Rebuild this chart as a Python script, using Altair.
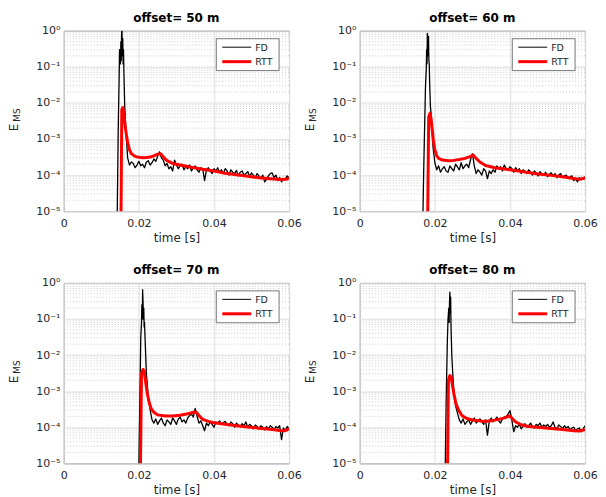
import altair as alt
import pandas as pd

# ---------------- data ----------------
OFFSETS = [50, 60, 70, 80]

# common sampling grid of the FD traces, in ms
GRID_MS = [14.0, 14.5, 15.0, 15.5, 16.0, 16.5, 17.0, 17.5, 18.0, 18.5,
           19.0, 19.5, 20.0, 20.5, 21.0, 21.5, 22.0, 22.5, 23.0, 23.5,
           24.0, 24.5, 25.0, 25.5, 26.0, 26.5, 27.0, 27.5, 28.0, 28.5,
           29.0, 29.5, 30.0, 30.5, 31.0, 31.5, 32.0, 32.5, 33.0, 33.5,
           34.0, 34.5, 35.0, 35.5, 36.0, 36.5, 37.0, 37.5, 38.0, 38.5,
           39.0, 39.5, 40.0, 40.5, 41.0, 41.5, 42.0, 42.5, 43.0, 43.5,
           44.0, 44.5, 45.0, 45.5, 46.0, 46.5, 47.0, 47.5, 48.0, 48.5,
           49.0, 49.5, 50.0, 50.5, 51.0, 51.5, 52.0, 52.5, 53.0, 53.5,
           54.0, 54.5, 55.0, 55.5, 56.0, 56.5, 57.0, 57.5, 58.0, 58.5,
           59.0, 59.5, 60.0]

FD_START_MS = [14.0, 16.5, 19.5, 22.5]

FD_50 = [1e-7, 2e-3, 0.2, 1.0, 0.08, 2e-3, 3e-4,
         1.9e-4, 2.3e-4, 2.1e-4, 1.6e-4, 1.9e-4, 2.4e-4, 1.8e-4, 2.0e-4, 1.6e-4, 2.3e-4,
         2.5e-4, 1.9e-4, 2.2e-4, 2.8e-4, 2.4e-4, 3.3e-4, 4.4e-4, 3.0e-4, 2.6e-4, 1.8e-4,
         2.1e-4, 1.5e-4, 1.7e-4, 1.3e-4, 2.6e-4, 1.9e-4, 1.5e-4, 1.8e-4, 2.0e-4, 1.4e-4,
         1.7e-4, 1.5e-4, 1.9e-4, 1.3e-4, 1.6e-4, 1.8e-4, 1.4e-4, 1.2e-4, 1.6e-4, 1.5e-4,
         7e-5, 1.4e-4, 1.6e-4, 1.3e-4, 1.1e-4, 1.5e-4, 1.3e-4, 1.6e-4, 1.2e-4, 1.4e-4,
         1.1e-4, 1.5e-4, 1.3e-4, 1.0e-4, 1.4e-4, 1.2e-4, 1.1e-4, 1.35e-4, 9.5e-5, 1.2e-4,
         1.3e-4, 1.0e-4, 1.1e-4, 1.25e-4, 9e-5, 1.15e-4, 1.0e-4, 8.5e-5, 1.1e-4, 9.5e-5,
         8e-5, 1.0e-4, 6.5e-5, 7.5e-5, 9.5e-5, 1.1e-4, 1.15e-4, 8.5e-5, 1.0e-4, 7e-5,
         8.5e-5, 6.5e-5, 8e-5, 7.5e-5, 9.5e-5, 8.5e-5]

FD_60 = [1e-7, 1e-4, 0.03, 0.85, 0.12, 5e-3,
         6e-4, 2.2e-4, 1.4e-4, 1.8e-4, 1.2e-4, 1.5e-4, 1.7e-4, 1.3e-4, 1.2e-4, 1.8e-4,
         1.5e-4, 1.3e-4, 2.0e-4, 1.7e-4, 1.4e-4, 2.2e-4, 1.5e-4, 1.8e-4, 2.0e-4, 1.6e-4,
         2.7e-4, 3.9e-4, 1.8e-4, 1.1e-4, 1.4e-4, 1.2e-4, 1.0e-4, 1.5e-4, 1.3e-4, 8e-5,
         1.3e-4, 1.1e-4, 1.4e-4, 1.2e-4, 1.8e-4, 1.5e-4, 1.7e-4, 1.3e-4, 1.9e-4, 1.5e-4,
         1.4e-4, 1.7e-4, 1.5e-4, 1.2e-4, 1.6e-4, 1.35e-4, 1.5e-4, 1.1e-4, 1.4e-4, 1.25e-4,
         1.1e-4, 1.4e-4, 1.2e-4, 1.0e-4, 1.3e-4, 1.15e-4, 9.5e-5, 1.25e-4, 1.1e-4, 1.0e-4,
         1.2e-4, 9e-5, 1.05e-4, 1.15e-4, 9.5e-5, 1.1e-4, 8.5e-5, 1.0e-4, 1.1e-4, 8.5e-5,
         9.5e-5, 1.0e-4, 8e-5, 9e-5, 9.5e-5, 7e-5, 8e-5, 6.5e-5, 8.5e-5, 7.5e-5,
         8e-5, 9e-5]

FD_70 = [1e-7, 1e-5, 0.03, 0.65, 0.08, 3e-3, 7e-4,
         3e-4, 1.6e-4, 1.3e-4, 1.7e-4, 1.2e-4, 1.5e-4, 1.8e-4, 1.3e-4, 1.1e-4, 1.6e-4,
         1.4e-4, 1.2e-4, 1.8e-4, 1.5e-4, 1.2e-4, 1.7e-4, 1.9e-4, 1.4e-4, 1.6e-4, 1.3e-4,
         1.8e-4, 2.1e-4, 2.3e-4, 1.9e-4, 3.3e-4, 2.0e-4, 1.3e-4, 1.5e-4, 1.1e-4, 8e-5,
         1.3e-4, 1.1e-4, 1.4e-4, 1.2e-4, 1.0e-4, 1.4e-4, 1.3e-4, 1.5e-4, 1.2e-4, 1.35e-4,
         1.45e-4, 1.2e-4, 1.1e-4, 1.4e-4, 1.25e-4, 1.0e-4, 1.3e-4, 1.15e-4, 1.05e-4, 1.25e-4,
         1.1e-4, 1.4e-4, 1.0e-4, 1.2e-4, 1.1e-4, 9e-5, 1.15e-4, 1.05e-4, 9e-5, 1.1e-4,
         1.0e-4, 8.5e-5, 1.05e-4, 9e-5, 1.1e-4, 1.0e-4, 8.5e-5, 1.05e-4, 9.5e-5, 1.1e-4,
         4.5e-5, 9.5e-5, 8e-5, 1.05e-4, 9e-5]

FD_80 = [1e-7, 5e-4, 0.1, 0.55, 0.01, 1.2e-3,
         4e-4, 2.5e-4, 1.6e-4, 1.3e-4, 1.7e-4, 1.2e-4, 1.4e-4, 1.6e-4, 1.2e-4, 1.5e-4,
         1.8e-4, 1.3e-4, 1.5e-4, 1.7e-4, 1.4e-4, 1.2e-4, 1.6e-4, 6e-5, 1.5e-4, 1.8e-4,
         1.4e-4, 1.6e-4, 1.9e-4, 1.5e-4, 1.3e-4, 1.7e-4, 1.9e-4, 2.0e-4, 2.3e-4, 2.9e-4,
         1.6e-4, 7.5e-5, 1.1e-4, 1.0e-4, 1.2e-4, 9e-5, 1.05e-4, 1.25e-4, 1.0e-4, 1.1e-4,
         1.3e-4, 1.05e-4, 9.5e-5, 1.2e-4, 1.1e-4, 1.3e-4, 1.0e-4, 1.15e-4, 1.05e-4, 1.2e-4,
         1.0e-4, 1.1e-4, 1.4e-4, 1.0e-4, 9e-5, 1.15e-4, 1.05e-4, 9e-5, 1.1e-4, 9.5e-5,
         1.05e-4, 8.5e-5, 9.5e-5, 1.0e-4, 8e-5, 9e-5, 9.5e-5, 7.5e-5, 9e-5, 1.1e-4]

# extra FD samples inside the first arrival (oscillating spike), ms / value
FD_EXTRA_T = [
    [14.7, 14.85, 15.1, 15.2, 15.3, 15.4, 15.6, 15.7, 15.8, 15.9, 16.2],
    [17.7, 17.8, 17.9, 18.1, 18.2, 18.3, 18.4, 18.6, 18.8],
    [20.7, 20.8, 20.9, 21.1, 21.2, 21.3, 21.4, 21.7],
    [23.3, 23.7, 23.8, 23.9, 24.1, 24.2, 24.3, 24.7],
]
FD_EXTRA_V = [
    [0.03, 0.3, 0.12, 0.5, 0.15, 0.9, 0.2, 0.6, 0.12, 0.3, 0.01],
    [0.08, 0.3, 0.12, 0.6, 0.2, 0.7, 0.15, 0.04, 8e-3],
    [0.08, 0.25, 0.1, 0.3, 0.1, 0.2, 0.06, 0.02],
    [0.02, 0.2, 0.08, 0.3, 0.15, 0.4, 0.06, 4e-3],
]

RTT_T_50 = [15.1, 15.45, 15.7, 16.0, 16.4, 17.0, 17.5, 18.0, 19.0, 20.0,
            21.0, 22.0, 23.0, 24.0, 25.0, 25.8, 26.5, 27.5, 29.0, 31.0,
            34.0, 37.0, 40.0, 43.0, 46.0, 49.0, 52.0, 55.0, 58.0, 59.5, 60.0]
RTT_V_50 = [1e-7, 6.5e-3, 7.4e-3, 5e-3, 2e-3, 8e-4, 5e-4, 3.9e-4, 3.3e-4, 3.1e-4,
            3.0e-4, 3.05e-4, 3.15e-4, 3.4e-4, 3.8e-4, 3.9e-4, 3.2e-4, 2.5e-4, 2.1e-4, 1.9e-4,
            1.65e-4, 1.45e-4, 1.3e-4, 1.12e-4, 1.02e-4, 9.3e-5, 8.4e-5, 7.9e-5, 7.5e-5, 7.8e-5, 8.5e-5]

RTT_T_60 = [17.9, 18.35, 18.7, 19.0, 19.3, 19.6, 20.0, 20.5, 21.0, 22.0,
            23.5, 25.0, 26.5, 28.0, 29.5, 30.2, 31.0, 32.0, 33.5, 36.0,
            40.0, 44.0, 47.5, 51.0, 54.0, 57.0, 58.5, 60.0]
RTT_V_60 = [1e-7, 4e-3, 5.2e-3, 3.5e-3, 1.8e-3, 9e-4, 5e-4, 3.4e-4, 2.9e-4, 2.6e-4,
            2.5e-4, 2.55e-4, 2.7e-4, 2.9e-4, 3.3e-4, 3.6e-4, 2.9e-4, 2.3e-4, 1.85e-4, 1.6e-4,
            1.4e-4, 1.22e-4, 1.07e-4, 9.8e-5, 9e-5, 8e-5, 7.6e-5, 8.3e-5]

RTT_T_70 = [20.2, 20.7, 21.1, 21.4, 21.8, 22.2, 22.7, 23.3, 24.0, 25.0,
            27.0, 29.0, 31.0, 33.0, 34.5, 35.3, 36.0, 37.0, 38.5, 40.5,
            43.0, 46.0, 49.0, 52.0, 55.0, 57.5, 59.0, 60.0]
RTT_V_70 = [1e-7, 3e-3, 4e-3, 3.6e-3, 1.8e-3, 9e-4, 5e-4, 3.2e-4, 2.6e-4, 2.2e-4,
            2.05e-4, 2.05e-4, 2.15e-4, 2.35e-4, 2.6e-4, 2.6e-4, 2.1e-4, 1.65e-4, 1.45e-4, 1.3e-4,
            1.2e-4, 1.1e-4, 1.02e-4, 9.4e-5, 8.8e-5, 8.1e-5, 8e-5, 9e-5]

RTT_T_80 = [23.2, 23.6, 24.0, 24.3, 24.7, 25.1, 25.6, 26.3, 27.2, 28.5,
            30.5, 33.0, 35.0, 37.0, 38.8, 39.8, 40.6, 41.5, 43.0, 45.0,
            48.0, 51.0, 54.0, 57.0, 58.5, 60.0]
RTT_V_80 = [1e-7, 2e-3, 2.7e-3, 2.5e-3, 1.4e-3, 8e-4, 4.5e-4, 3e-4, 2.1e-4, 1.75e-4,
            1.55e-4, 1.45e-4, 1.5e-4, 1.65e-4, 1.85e-4, 2.05e-4, 1.75e-4, 1.4e-4, 1.17e-4, 1.05e-4,
            9.8e-5, 9.2e-5, 8.6e-5, 8e-5, 7.8e-5, 8.6e-5]

FD = [FD_50, FD_60, FD_70, FD_80]
RTT_T = [RTT_T_50, RTT_T_60, RTT_T_70, RTT_T_80]
RTT_V = [RTT_V_50, RTT_V_60, RTT_V_70, RTT_V_80]

Y_MAJOR = [1e-5, 1e-4, 1e-3, 1e-2, 1e-1, 1.0]
Y_MINOR = [m * 10.0 ** e for e in range(-5, 0) for m in range(2, 10)]
X_TICKS = [0, 0.02, 0.04, 0.06]

# ---------------- chart ----------------
W, H = 226, 181
FONT = "DejaVu Sans"

LABEL_EXPR = ("'10' + (datum.value >= 0.5 ? '⁰' : datum.value >= 0.05 ? '⁻¹' : "
              "datum.value >= 0.005 ? '⁻²' : datum.value >= 0.0005 ? '⁻³' : "
              "datum.value >= 0.00005 ? '⁻⁴' : '⁻⁵')")

one = pd.DataFrame({"k": [0]})


def make_panel(k):
    i0 = GRID_MS.index(FD_START_MS[k])
    ts = GRID_MS[i0:i0 + len(FD[k])]
    pts = list(zip(ts, FD[k])) + list(zip(FD_EXTRA_T[k], FD_EXTRA_V[k]))
    pts.sort(key=lambda p: p[0])
    fd = pd.DataFrame({"t": [p[0] / 1000 for p in pts], "v": [p[1] for p in pts]})
    fd["o"] = range(len(fd))
    rtt = pd.DataFrame({"t": [t / 1000 for t in RTT_T[k]], "v": RTT_V[k]})
    rtt["o"] = range(len(rtt))

    yscale = alt.Scale(type="log", domain=[1e-5, 1], nice=False)
    xscale = alt.Scale(domain=[0, 0.06], nice=False, zero=False)
    yaxis = alt.Axis(values=Y_MAJOR, labelExpr=LABEL_EXPR, title=None, grid=True,
                     labelPadding=4, labelFlush=False)
    xaxis = alt.Axis(values=X_TICKS, format="~g", title="time [s]", grid=True,
                     labelPadding=6, titlePadding=4, labelFlush=False)
    Y = alt.Y("v:Q", scale=yscale, axis=yaxis)
    X = alt.X("t:Q", scale=xscale, axis=xaxis)

    minor = alt.Chart(pd.DataFrame({"v": Y_MINOR})).mark_rule(
        color="#cccccc", strokeDash=[1, 2], strokeWidth=1).encode(y=Y)

    fd_line = alt.Chart(fd).mark_line(color="black", strokeWidth=1.3, clip=True,
                                      strokeJoin="round").encode(x=X, y=Y, order="o:Q")
    rtt_line = alt.Chart(rtt).mark_line(color="#ff0000", strokeWidth=3, clip=True,
                                        strokeJoin="round").encode(x=X, y=Y, order="o:Q")

    leg_box = alt.Chart(one).mark_rect(fill="white", stroke="#777777", strokeWidth=1).encode(
        x=alt.value(153), x2=alt.value(216), y=alt.value(8), y2=alt.value(40))
    leg_fd = alt.Chart(one).mark_rule(color="black", strokeWidth=1).encode(
        x=alt.value(159), x2=alt.value(188), y=alt.value(16.5))
    leg_rtt = alt.Chart(one).mark_rule(color="#ff0000", strokeWidth=3).encode(
        x=alt.value(159), x2=alt.value(188), y=alt.value(31))
    leg_t1 = alt.Chart(one).mark_text(text="FD", align="left", baseline="middle",
                                      font=FONT, fontSize=9.5, color="#262626").encode(
        x=alt.value(192), y=alt.value(17))
    leg_t2 = alt.Chart(one).mark_text(text="RTT", align="left", baseline="middle",
                                      font=FONT, fontSize=9.5, color="#262626").encode(
        x=alt.value(192), y=alt.value(31.5))

    ylab_e = alt.Chart(one).mark_text(text="E", angle=270, align="center", baseline="middle",
                                      font=FONT, fontSize=12, color="#262626").encode(
        x=alt.value(-49.5), y=alt.value(97))
    ylab_ms = alt.Chart(one).mark_text(text="MS", angle=270, align="center", baseline="middle",
                                       font=FONT, fontSize=9, color="#262626").encode(
        x=alt.value(-46.5), y=alt.value(84.5))

    return alt.layer(minor, fd_line, rtt_line, leg_box, leg_fd, leg_rtt, leg_t1, leg_t2,
                     ylab_e, ylab_ms).properties(
        width=W, height=H,
        title=alt.TitleParams(text=f"offset= {OFFSETS[k]} m", font=FONT, fontSize=12,
                              fontWeight="bold", color="black", offset=0, anchor="middle"))


top = alt.hconcat(make_panel(0), make_panel(1), spacing=2)
bottom = alt.hconcat(make_panel(2), make_panel(3), spacing=2)
chart = alt.vconcat(top, bottom, spacing=19, background="white",
                    padding={"left": 0, "top": 2, "right": 0, "bottom": 2}).configure_view(
    stroke="#555555", strokeWidth=1
).configure_axis(
    labelFont=FONT, labelFontSize=11, labelColor="#262626",
    titleFont=FONT, titleFontSize=12, titleFontWeight="normal", titleColor="#262626",
    gridColor="#dedede", gridWidth=1, domain=False, ticks=False
)

chart.save("out.html", embed_options={"renderer": "svg", "actions": False})
